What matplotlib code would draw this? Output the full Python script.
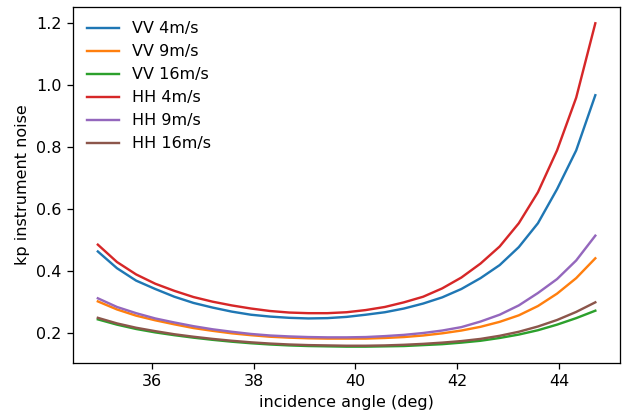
import numpy as np
import matplotlib
matplotlib.use("Agg")
import matplotlib.pyplot as plt

angles = np.linspace(34.94, 44.71, 27)

vv_4 = [0.464, 0.41, 0.37, 0.343, 0.318, 0.298, 0.283, 0.27, 0.26, 0.254, 0.25, 0.248,
        0.249, 0.253, 0.26, 0.268, 0.28, 0.296, 0.316, 0.343, 0.378, 0.42, 0.478,
        0.555, 0.665, 0.79, 0.968]
vv_9 = [0.303, 0.277, 0.257, 0.242, 0.229, 0.217, 0.208, 0.2, 0.194, 0.189, 0.186, 0.184,
        0.183, 0.183, 0.183, 0.185, 0.188, 0.193, 0.2, 0.209, 0.221, 0.237, 0.258,
        0.288, 0.328, 0.378, 0.442]
vv_16 = [0.245, 0.228, 0.214, 0.203, 0.194, 0.186, 0.179, 0.173, 0.168, 0.164, 0.161, 0.159,
         0.158, 0.157, 0.157, 0.158, 0.159, 0.162, 0.165, 0.17, 0.176, 0.185, 0.196,
         0.21, 0.228, 0.249, 0.273]
hh_4 = [0.486, 0.43, 0.39, 0.36, 0.337, 0.317, 0.302, 0.29, 0.28, 0.272, 0.267, 0.265,
        0.265, 0.268, 0.275, 0.285, 0.30, 0.318, 0.345, 0.38, 0.425, 0.48, 0.555,
        0.655, 0.79, 0.96, 1.2]
hh_9 = [0.313, 0.285, 0.265, 0.248, 0.235, 0.223, 0.213, 0.205, 0.198, 0.193, 0.19, 0.188,
        0.187, 0.187, 0.188, 0.191, 0.195, 0.201, 0.209, 0.22, 0.238, 0.26, 0.29,
        0.33, 0.375, 0.435, 0.515]
hh_16 = [0.25, 0.232, 0.218, 0.207, 0.197, 0.189, 0.182, 0.176, 0.171, 0.167, 0.164, 0.162,
         0.161, 0.16, 0.16, 0.161, 0.163, 0.166, 0.17, 0.175, 0.182, 0.192, 0.205,
         0.222, 0.243, 0.269, 0.30]

series = [("VV 4m/s", vv_4), ("VV 9m/s", vv_9), ("VV 16m/s", vv_16),
          ("HH 4m/s", hh_4), ("HH 9m/s", hh_9), ("HH 16m/s", hh_16)]

s = 1.15
plt.rcParams.update({
    "font.size": 10 * s,
    "lines.linewidth": 1.5 * s,
    "axes.linewidth": 0.8 * s,
    "xtick.major.size": 3.5 * s,
    "ytick.major.size": 3.5 * s,
    "xtick.major.width": 0.8 * s,
    "ytick.major.width": 0.8 * s,
    "xtick.major.pad": 3.5 * s,
    "ytick.major.pad": 3.5 * s,
    "axes.labelpad": 4.0 * s,
})

fig = plt.figure(figsize=(6.29, 4.18), dpi=100)
ax = fig.add_axes([0.116, 0.132, 0.870, 0.851])
for label, vals in series:
    ax.plot(angles, vals, label=label)
ax.set_xlabel("incidence angle (deg)")
ax.set_ylabel("kp instrument noise")
ax.legend(loc="upper left", frameon=False)
fig.savefig("out.png", dpi=100)
